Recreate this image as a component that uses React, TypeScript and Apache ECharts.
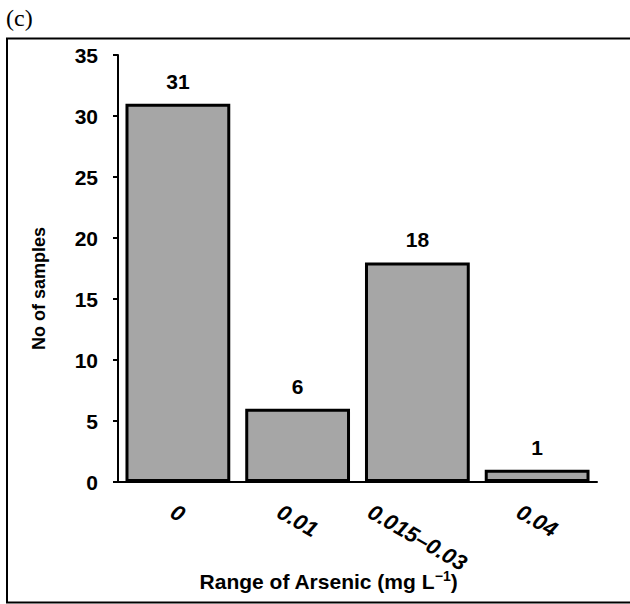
import React, { useEffect, useRef } from "react";
import * as echarts from "echarts";

const categories = ["0", "0.01", "0.015–0.03", "0.04"];
const sampleCounts = [31, 6, 18, 1];
const yMin = 0;
const yMax = 35;
const yInterval = 5;
const panelLabel = "(c)";
const yTitle = "No of samples";
const xTitle = "Range of Arsenic (mg L{sup|−1})";

const FONT = "'Liberation Sans', Arial, sans-serif";
const LABEL_SIZE = 22;

function measure(text: string): number {
  const c = document.createElement("canvas").getContext("2d");
  if (!c) return text.length * LABEL_SIZE * 0.55;
  c.font = `italic bold ${LABEL_SIZE}px 'Liberation Sans', Arial`;
  return c.measureText(text).width;
}

export default function App() {
  const ref = useRef<HTMLDivElement>(null);
  useEffect(() => {
    if (!ref.current) return;
    const chart = echarts.init(ref.current, undefined, { renderer: "svg" });

    // per-label rich styles so each rotated label's box is top-aligned under the axis
    const w0 = measure(categories[0]);
    const rich: Record<string, any> = {};
    categories.forEach((c, i) => {
      const sy = 0.25 * (measure(c) - w0);
      const a = sy * 0.5;
      const b = sy * 0.866;
      rich["l" + i] = {
        fontFamily: FONT,
        fontSize: LABEL_SIZE,
        fontWeight: "bold",
        fontStyle: "italic",
        color: "#000",
        padding: [2 * b, 0, 0, 2 * a],
      };
    });

    chart.setOption({
      animation: false,
      grid: {
        left: 118,
        right: 33,
        top: 55,
        bottom: 122,
        containLabel: false,
        outerBoundsMode: "none",
      },
      graphic: [
        {
          type: "rect",
          shape: { x: 7, y: 38.5, width: 640, height: 564 },
          style: { fill: "none", stroke: "#000", lineWidth: 2 },
          silent: true,
        },
        {
          type: "text",
          x: 6,
          y: 6,
          style: {
            text: panelLabel,
            fontFamily: "'Liberation Serif', 'Times New Roman', serif",
            fontSize: 24,
            fill: "#000",
          },
        },
      ],
      xAxis: {
        type: "category",
        data: categories,
        axisLine: { show: true, lineStyle: { color: "#000", width: 2 } },
        axisTick: { show: false },
        splitLine: { show: false },
        axisLabel: {
          interval: 0,
          rotate: -30,
          align: "center",
          verticalAlign: "middle",
          margin: 31,
          formatter: (v: string) => {
            const i = categories.indexOf(v);
            return `{l${i}|${v}}`;
          },
          rich,
        },
        name: xTitle,
        nameLocation: "middle",
        nameGap: 87,
        nameMoveOverlap: false,
        nameTextStyle: {
          fontFamily: FONT,
          fontSize: 21,
          fontWeight: "bold",
          color: "#000",
          padding: [0, 58, 0, 0],
          rich: {
            sup: {
              fontFamily: FONT,
              fontSize: 14,
              fontWeight: "bold",
              color: "#000",
              padding: [0, 0, 10, 0],
            },
          },
        },
      },
      yAxis: {
        type: "value",
        min: yMin,
        max: yMax,
        interval: yInterval,
        axisLine: { show: true, lineStyle: { color: "#000", width: 2 } },
        axisTick: { show: true, inside: false, length: 5, lineStyle: { color: "#000", width: 2 } },
        splitLine: { show: false },
        axisLabel: {
          margin: 20,
          fontFamily: FONT,
          fontSize: 21,
          fontWeight: "bold",
          color: "#000",
        },
        name: yTitle,
        nameLocation: "middle",
        nameGap: 70,
        nameMoveOverlap: false,
        nameTextStyle: {
          fontFamily: FONT,
          fontSize: 18,
          fontWeight: "bold",
          color: "#000",
          padding: [0, 40, 0, 0],
        },
      },
      series: [
        {
          type: "bar",
          data: sampleCounts,
          barCategoryGap: "12.5%",
          itemStyle: { color: "#a6a6a6", borderColor: "#000", borderWidth: 3 },
          label: {
            show: true,
            position: "top",
            distance: 12,
            fontFamily: FONT,
            fontSize: 21,
            fontWeight: "bold",
            color: "#000",
          },
        },
      ],
    });
    return () => chart.dispose();
  }, []);
  return (
    <div
      ref={ref}
      style={{ position: "fixed", left: 0, top: 0, width: 630, height: 604, background: "#fff" }}
    />
  );
}
